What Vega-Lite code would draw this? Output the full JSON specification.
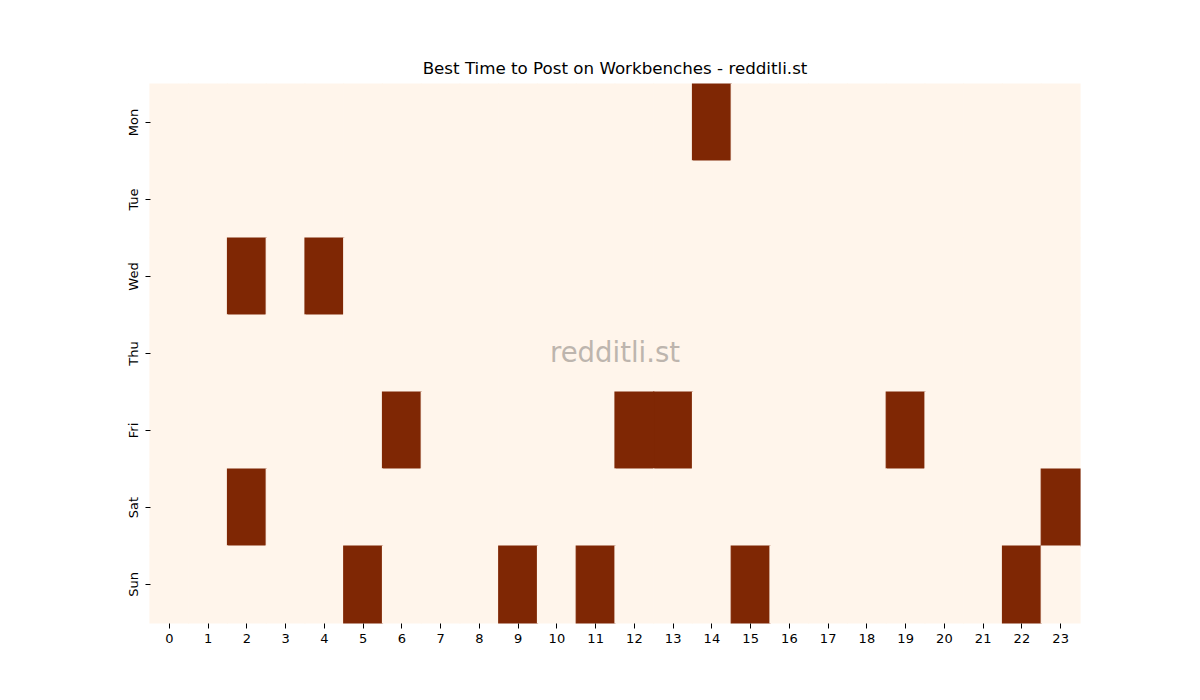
{
  "$schema": "https://vega.github.io/schema/vega-lite/v6.json",
  "description": "Best time to post heatmap by weekday and hour.",
  "width": 930,
  "height": 539,
  "autosize": {"type": "none"},
  "padding": {"left": 150, "top": 84, "right": 120, "bottom": 77},
  "background": "white",
  "title": {
    "text": "Best Time to Post on Workbenches - redditli.st",
    "font": "DejaVu Sans",
    "fontSize": 16.7,
    "fontWeight": "normal",
    "color": "black",
    "offset": 6
  },
  "data": {
    "values": [
      {"day":"Mon","hour":0,"v":0},{"day":"Mon","hour":1,"v":0},{"day":"Mon","hour":2,"v":0},{"day":"Mon","hour":3,"v":0},{"day":"Mon","hour":4,"v":0},{"day":"Mon","hour":5,"v":0},{"day":"Mon","hour":6,"v":0},{"day":"Mon","hour":7,"v":0},{"day":"Mon","hour":8,"v":0},{"day":"Mon","hour":9,"v":0},{"day":"Mon","hour":10,"v":0},{"day":"Mon","hour":11,"v":0},{"day":"Mon","hour":12,"v":0},{"day":"Mon","hour":13,"v":0},{"day":"Mon","hour":14,"v":1},{"day":"Mon","hour":15,"v":0},{"day":"Mon","hour":16,"v":0},{"day":"Mon","hour":17,"v":0},{"day":"Mon","hour":18,"v":0},{"day":"Mon","hour":19,"v":0},{"day":"Mon","hour":20,"v":0},{"day":"Mon","hour":21,"v":0},{"day":"Mon","hour":22,"v":0},{"day":"Mon","hour":23,"v":0},
      {"day":"Tue","hour":0,"v":0},{"day":"Tue","hour":1,"v":0},{"day":"Tue","hour":2,"v":0},{"day":"Tue","hour":3,"v":0},{"day":"Tue","hour":4,"v":0},{"day":"Tue","hour":5,"v":0},{"day":"Tue","hour":6,"v":0},{"day":"Tue","hour":7,"v":0},{"day":"Tue","hour":8,"v":0},{"day":"Tue","hour":9,"v":0},{"day":"Tue","hour":10,"v":0},{"day":"Tue","hour":11,"v":0},{"day":"Tue","hour":12,"v":0},{"day":"Tue","hour":13,"v":0},{"day":"Tue","hour":14,"v":0},{"day":"Tue","hour":15,"v":0},{"day":"Tue","hour":16,"v":0},{"day":"Tue","hour":17,"v":0},{"day":"Tue","hour":18,"v":0},{"day":"Tue","hour":19,"v":0},{"day":"Tue","hour":20,"v":0},{"day":"Tue","hour":21,"v":0},{"day":"Tue","hour":22,"v":0},{"day":"Tue","hour":23,"v":0},
      {"day":"Wed","hour":0,"v":0},{"day":"Wed","hour":1,"v":0},{"day":"Wed","hour":2,"v":1},{"day":"Wed","hour":3,"v":0},{"day":"Wed","hour":4,"v":1},{"day":"Wed","hour":5,"v":0},{"day":"Wed","hour":6,"v":0},{"day":"Wed","hour":7,"v":0},{"day":"Wed","hour":8,"v":0},{"day":"Wed","hour":9,"v":0},{"day":"Wed","hour":10,"v":0},{"day":"Wed","hour":11,"v":0},{"day":"Wed","hour":12,"v":0},{"day":"Wed","hour":13,"v":0},{"day":"Wed","hour":14,"v":0},{"day":"Wed","hour":15,"v":0},{"day":"Wed","hour":16,"v":0},{"day":"Wed","hour":17,"v":0},{"day":"Wed","hour":18,"v":0},{"day":"Wed","hour":19,"v":0},{"day":"Wed","hour":20,"v":0},{"day":"Wed","hour":21,"v":0},{"day":"Wed","hour":22,"v":0},{"day":"Wed","hour":23,"v":0},
      {"day":"Thu","hour":0,"v":0},{"day":"Thu","hour":1,"v":0},{"day":"Thu","hour":2,"v":0},{"day":"Thu","hour":3,"v":0},{"day":"Thu","hour":4,"v":0},{"day":"Thu","hour":5,"v":0},{"day":"Thu","hour":6,"v":0},{"day":"Thu","hour":7,"v":0},{"day":"Thu","hour":8,"v":0},{"day":"Thu","hour":9,"v":0},{"day":"Thu","hour":10,"v":0},{"day":"Thu","hour":11,"v":0},{"day":"Thu","hour":12,"v":0},{"day":"Thu","hour":13,"v":0},{"day":"Thu","hour":14,"v":0},{"day":"Thu","hour":15,"v":0},{"day":"Thu","hour":16,"v":0},{"day":"Thu","hour":17,"v":0},{"day":"Thu","hour":18,"v":0},{"day":"Thu","hour":19,"v":0},{"day":"Thu","hour":20,"v":0},{"day":"Thu","hour":21,"v":0},{"day":"Thu","hour":22,"v":0},{"day":"Thu","hour":23,"v":0},
      {"day":"Fri","hour":0,"v":0},{"day":"Fri","hour":1,"v":0},{"day":"Fri","hour":2,"v":0},{"day":"Fri","hour":3,"v":0},{"day":"Fri","hour":4,"v":0},{"day":"Fri","hour":5,"v":0},{"day":"Fri","hour":6,"v":1},{"day":"Fri","hour":7,"v":0},{"day":"Fri","hour":8,"v":0},{"day":"Fri","hour":9,"v":0},{"day":"Fri","hour":10,"v":0},{"day":"Fri","hour":11,"v":0},{"day":"Fri","hour":12,"v":1},{"day":"Fri","hour":13,"v":1},{"day":"Fri","hour":14,"v":0},{"day":"Fri","hour":15,"v":0},{"day":"Fri","hour":16,"v":0},{"day":"Fri","hour":17,"v":0},{"day":"Fri","hour":18,"v":0},{"day":"Fri","hour":19,"v":1},{"day":"Fri","hour":20,"v":0},{"day":"Fri","hour":21,"v":0},{"day":"Fri","hour":22,"v":0},{"day":"Fri","hour":23,"v":0},
      {"day":"Sat","hour":0,"v":0},{"day":"Sat","hour":1,"v":0},{"day":"Sat","hour":2,"v":1},{"day":"Sat","hour":3,"v":0},{"day":"Sat","hour":4,"v":0},{"day":"Sat","hour":5,"v":0},{"day":"Sat","hour":6,"v":0},{"day":"Sat","hour":7,"v":0},{"day":"Sat","hour":8,"v":0},{"day":"Sat","hour":9,"v":0},{"day":"Sat","hour":10,"v":0},{"day":"Sat","hour":11,"v":0},{"day":"Sat","hour":12,"v":0},{"day":"Sat","hour":13,"v":0},{"day":"Sat","hour":14,"v":0},{"day":"Sat","hour":15,"v":0},{"day":"Sat","hour":16,"v":0},{"day":"Sat","hour":17,"v":0},{"day":"Sat","hour":18,"v":0},{"day":"Sat","hour":19,"v":0},{"day":"Sat","hour":20,"v":0},{"day":"Sat","hour":21,"v":0},{"day":"Sat","hour":22,"v":0},{"day":"Sat","hour":23,"v":1},
      {"day":"Sun","hour":0,"v":0},{"day":"Sun","hour":1,"v":0},{"day":"Sun","hour":2,"v":0},{"day":"Sun","hour":3,"v":0},{"day":"Sun","hour":4,"v":0},{"day":"Sun","hour":5,"v":1},{"day":"Sun","hour":6,"v":0},{"day":"Sun","hour":7,"v":0},{"day":"Sun","hour":8,"v":0},{"day":"Sun","hour":9,"v":1},{"day":"Sun","hour":10,"v":0},{"day":"Sun","hour":11,"v":1},{"day":"Sun","hour":12,"v":0},{"day":"Sun","hour":13,"v":0},{"day":"Sun","hour":14,"v":0},{"day":"Sun","hour":15,"v":1},{"day":"Sun","hour":16,"v":0},{"day":"Sun","hour":17,"v":0},{"day":"Sun","hour":18,"v":0},{"day":"Sun","hour":19,"v":0},{"day":"Sun","hour":20,"v":0},{"day":"Sun","hour":21,"v":0},{"day":"Sun","hour":22,"v":1},{"day":"Sun","hour":23,"v":0}
    ]
  },
  "encoding": {
    "x": {
      "field": "hour",
      "type": "ordinal",
      "scale": {"paddingInner": 0, "paddingOuter": 0},
      "axis": {"title": null, "labelAngle": 0, "domain": false, "tickSize": 5, "tickColor": "black", "labelPadding": 4}
    },
    "y": {
      "field": "day",
      "type": "ordinal",
      "sort": ["Mon", "Tue", "Wed", "Thu", "Fri", "Sat", "Sun"],
      "scale": {"paddingInner": 0, "paddingOuter": 0},
      "axis": {"title": null, "labelAngle": -90, "labelAlign": "center", "labelBaseline": "bottom", "domain": false, "tickSize": 5, "tickColor": "black", "labelPadding": 5}
    }
  },
  "layer": [
    {
      "mark": {"type": "rect", "strokeWidth": 1.2},
      "encoding": {
        "color": {
          "field": "v",
          "type": "quantitative",
          "scale": {"domain": [0, 1], "range": ["#fff5eb", "#7f2704"]},
          "legend": null
        },
        "stroke": {
          "field": "v",
          "type": "quantitative",
          "scale": {"domain": [0, 1], "range": ["#fff5eb", "#7f2704"]},
          "legend": null
        }
      }
    },
    {
      "data": {"values": [{"label": "redditli.st", "hour": 12, "day": "Thu"}]},
      "mark": {"type": "text", "font": "DejaVu Sans", "fontSize": 27.5, "color": "#bdb5ae", "align": "center", "baseline": "middle"},
      "encoding": {
        "x": {"field": "hour", "type": "ordinal", "bandPosition": 0},
        "y": {"field": "day", "type": "ordinal", "bandPosition": 0.5},
        "text": {"field": "label"}
      }
    }
  ],
  "config": {
    "view": {"stroke": null},
    "axis": {"labelFont": "DejaVu Sans", "labelFontSize": 13, "labelColor": "black"}
  }
}
